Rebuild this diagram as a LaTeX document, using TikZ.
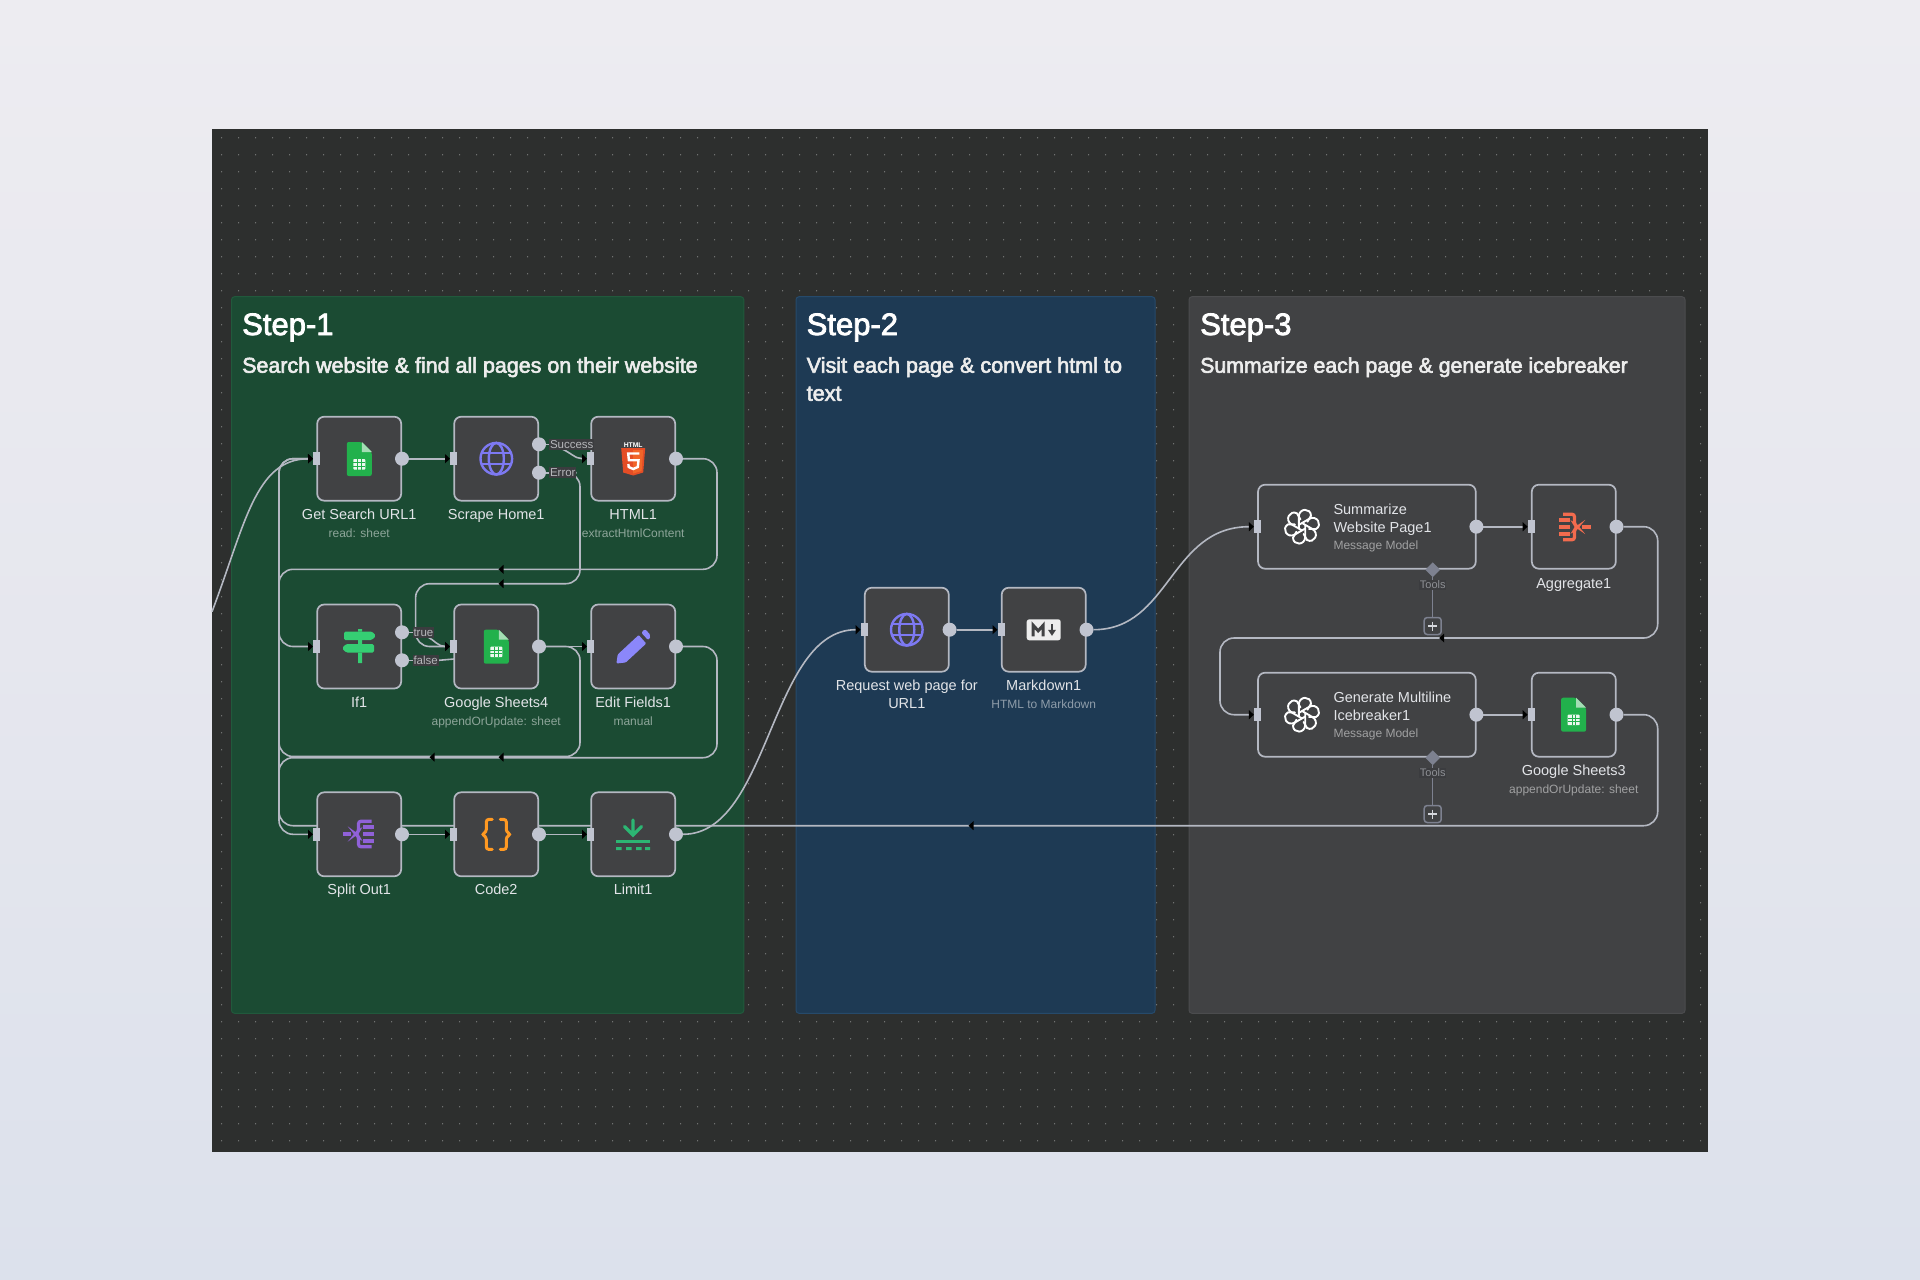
\documentclass[tikz,border=0pt]{standalone}
\usepackage{fontspec}
\setmainfont{Liberation Sans}
\newfontfamily\headfont[FakeBold=2.5]{Liberation Sans}
\newfontfamily\subfont[FakeBold=2.8]{Liberation Sans}
\usetikzlibrary{arrows.meta,shapes.geometric,calc}
\definecolor{canvasc}{HTML}{2D2F2E}
\definecolor{dotc}{HTML}{707271}
\definecolor{greenp}{HTML}{1B4B33}
\definecolor{greenb}{HTML}{21593C}
\definecolor{bluep}{HTML}{1E3A54}
\definecolor{blueb}{HTML}{264A6B}
\definecolor{grayp}{HTML}{414244}
\definecolor{grayb}{HTML}{4B4C4E}
\definecolor{boxc}{HTML}{414244}
\definecolor{edgec}{HTML}{B4B8C2}
\definecolor{portc}{HTML}{C0C4D0}
\definecolor{labc}{HTML}{E2E4E8}
\definecolor{sheetg}{HTML}{22B14C}
\definecolor{sheetf}{HTML}{A5DDB5}
\definecolor{globec}{HTML}{7D79F2}
\definecolor{pencilc}{HTML}{8B87FA}
\definecolor{signc}{HTML}{35CE73}
\definecolor{splitc}{HTML}{9061D8}
\definecolor{codec}{HTML}{FF9922}
\definecolor{limitc}{HTML}{2CB673}
\definecolor{aggc}{HTML}{F26B4E}
\definecolor{toolc}{HTML}{7D8190}
\definecolor{tagc}{HTML}{3B3C3F}
\definecolor{tagt}{HTML}{B5B6BA}
\definecolor{toolt}{HTML}{8E9095}
\definecolor{plusc}{HTML}{D5D7DC}
\definecolor{bgtop}{HTML}{EDECF1}
\definecolor{bgmid}{HTML}{E6E7EE}
\definecolor{bgbot}{HTML}{DCE1EC}
\definecolor{htmlbase}{HTML}{E44D26}
\definecolor{htmllite}{HTML}{F16529}
\pgfdeclarelayer{bglayer}
\pgfdeclarelayer{wirelayer}
\pgfsetlayers{bglayer,wirelayer,main}
\tikzset{
  panelbox/.style={line width=1pt,rounded corners=3pt},
  nodebox/.style={draw=edgec,fill=boxc,line width=1.7pt,rounded corners=7pt,minimum width=84pt,minimum height=84pt,inner sep=0pt,outer sep=0pt},
  inport/.style={fill=portc,minimum width=7pt,minimum height=13pt,inner sep=0pt,outer sep=0pt},
  outport/.style={circle,fill=portc,minimum size=14pt,inner sep=0pt,outer sep=0pt},
  wire/.style={draw=edgec,line width=1.6pt},
  rwire/.style={wire,rounded corners=14pt},
  tipped/.style={-{Triangle[length=5pt,width=9pt,color=black,fill=black]}},
  titletext/.style={anchor=base west,inner sep=0pt,text=white,font=\headfont\fontsize{31}{31}\selectfont},
  subtitle/.style={anchor=base west,inner sep=0pt,text=white!93!black,font=\subfont\fontsize{#1}{28}\selectfont},
  namelabm/.style={inner sep=0pt,text=labc,font=\fontsize{14.5}{17.5}\selectfont,align=center},
  namelab/.style={namelabm,text height=10.5pt,text depth=3pt},
  sublab/.style={inner sep=0pt,text=white,text opacity=.5,font=\fontsize{12}{14}\selectfont,text height=9pt,text depth=2.5pt},
  portlabel/.style={fill=tagc,text=tagt,inner sep=0.8pt,font=\fontsize{11.5}{12}\selectfont,anchor=west,text height=8.5pt,text depth=1pt},
  toollabel/.style={fill=tagc,text=toolt,inner sep=0.8pt,font=\fontsize{11}{12}\selectfont},
  toolline/.style={draw=toolc,line width=1.4pt},
  tooldiamond/.style={diamond,fill=toolc,minimum size=15pt,inner sep=0pt},
  plusbox/.style={draw=toolc,fill=boxc,line width=1.5pt,rounded corners=3pt,minimum size=17pt,inner sep=0pt},
  sheetsicon/.pic={
    \fill[sheetg,rounded corners=2pt] (-12.5,-17) -- (2.5,-17) -- (12.5,-7) -- (12.5,17) -- (-12.5,17) -- cycle;
    \fill[sheetf] (2.5,-17) -- (12.5,-7) -- (2.5,-7) -- cycle;
    \fill[white,opacity=.92,rounded corners=.8pt] (-6,0) rectangle (6,10.5);
    \draw[sheetg,line width=.6pt] (-6,3.5) -- (6,3.5) (-6,7) -- (6,7) (-1.6,0) -- (-1.6,10.5) (1.9,0) -- (1.9,10.5);
  },
  globeicon/.pic={
    \draw[globec,line width=2.4pt] (0,0) circle[radius=15.8];
    \draw[globec,line width=2.4pt] (0,0) ellipse[x radius=7.5,y radius=15.8];
    \draw[globec,line width=2.4pt] (-14.6,-5.5) -- (14.6,-5.5) (-14.6,5.5) -- (14.6,5.5);
  },
  openaiicon/.pic={
    \foreach \r in {0,60,...,300}{
      \draw[white,line width=1.9pt,line cap=round,rotate=\r] (-3.2,1.5) -- (-3.2,-10) .. controls (-3.2,-19) and (9,-19) .. (9,-11) -- (5.5,-5);
    }
  },
}
\newcommand\mkbox[4][]{\node[nodebox,#1] (#2) at (#3,#4) {}; \node[inport] (#2in) at ([xshift=-0.7pt]#2.west) {};}
\newcommand\mkout[3]{\node[outport] (#1) at (#2,#3) {};}
\newcommand\midarrow[2]{\fill[black,shift={(#1,#2)}] (-2.5,0) -- (2.5,-4.5) -- (2.5,4.5) -- cycle;}
\begin{document}
\begin{tikzpicture}[x=1pt,y=-1pt]
\useasboundingbox (0,0) rectangle (1920,1280);
\begin{pgfonlayer}{bglayer}
  \fill[top color=bgtop,bottom color=bgbot,middle color=bgmid] (0,0) rectangle (1920,1280);
  \fill[canvasc] (212,128.5) rectangle (1708,1152);
  \fill[dotc] \foreach \i in {0,...,87}{\foreach \j in {0,...,59}{ ({221.2+17*\i},{137+17*\j}) rectangle ++(1,1.3) }};
  \path[panelbox,fill=greenp,draw=greenb] (231.5,296.7) rectangle (743.8,1013.3);
  \path[panelbox,fill=bluep,draw=blueb] (796,296.7) rectangle (1155,1013.3);
  \path[panelbox,fill=grayp,draw=grayb] (1189,296.7) rectangle (1685,1013.3);
\end{pgfonlayer}

% headings
\node[titletext] (h1) at (242,335) {Step-1};
\node[subtitle=21.45] (s1) at (242,372.7) {Search website \& find all pages on their website};
\node[titletext] (h2) at (806.5,335) {Step-2};
\node[subtitle=21.6] (s2a) at (806.5,372.7) {Visit each page \& convert html to};
\node[subtitle=21.6] (s2b) at (806.5,400.7) {text};
\node[titletext] (h3) at (1200,335) {Step-3};
\node[subtitle=21.25] (s3) at (1200,372.7) {Summarize each page \& generate icebreaker};

% boxes
\mkbox{get}{359.2}{458.7}
\mkbox{scrape}{496.2}{458.7}
\mkbox{html}{633.2}{458.7}
\mkbox{iff}{359.2}{646.5}
\mkbox{gsf}{496.2}{646.5}
\mkbox{edit}{633.2}{646.5}
\mkbox{split}{359.2}{834.3}
\mkbox{code}{496.2}{834.3}
\mkbox{limit}{633.2}{834.3}
\mkbox{req}{906.8}{629.7}
\mkbox{md}{1043.7}{629.7}
\mkbox[minimum width=217.7pt]{summ}{1366.9}{526.7}
\mkbox{agg}{1573.8}{526.7}
\mkbox[minimum width=217.7pt]{gen}{1366.9}{714.7}
\mkbox{gst}{1573.8}{714.7}

% output ports
\mkout{getout}{402}{458.7}
\mkout{succout}{539}{444.3}
\mkout{errout}{539}{472.7}
\mkout{htmlout}{676}{458.7}
\mkout{trueout}{402}{632.3}
\mkout{falseout}{402}{660.3}
\mkout{gsfout}{539}{646.5}
\mkout{editout}{676}{646.5}
\mkout{splitout}{402}{834.3}
\mkout{codeout}{539}{834.3}
\mkout{limitout}{676}{834.3}
\mkout{reqout}{949.6}{629.7}
\mkout{mdout}{1086.5}{629.7}
\mkout{summout}{1476.4}{526.7}
\mkout{aggout}{1616.5}{526.7}
\mkout{genout}{1476.4}{714.7}
\mkout{gstout}{1616.5}{714.7}

% port labels
\node[portlabel] (succlab) at (549,444.3) {Success};
\node[portlabel] (errlab) at (549,472.7) {Error};
\node[portlabel] (truelab) at (412.5,632.3) {true};
\node[portlabel] (falselab) at (412.5,660.3) {false};

% node names
\node[namelab] (l1) at (359.2,515.3) {Get Search URL1};
\node[sublab] (l1b) at (359.2,534.3) {read: sheet};
\node[namelab] (l2) at (496.2,515.3) {Scrape Home1};
\node[namelab] (l3) at (633.2,515.3) {HTML1};
\node[sublab] (l3b) at (633.2,534.3) {extractHtmlContent};
\node[namelab] (l4) at (359.2,703.3) {If1};
\node[namelab] (l5) at (496.2,703.3) {Google Sheets4};
\node[sublab] (l5b) at (496.2,722.3) {appendOrUpdate: sheet};
\node[namelab] (l6) at (633.2,703.3) {Edit Fields1};
\node[sublab] (l6b) at (633.2,722.3) {manual};
\node[namelab] (l7) at (359.2,891) {Split Out1};
\node[namelab] (l8) at (496.2,891) {Code2};
\node[namelab] (l9) at (633.2,891) {Limit1};
\node[namelabm,anchor=north] (l10) at (906.8,680) {Request web page for\\URL1};
\node[namelab] (l11) at (1043.7,686.5) {Markdown1};
\node[sublab] (l11b) at (1043.7,705) {HTML to Markdown};
\node[namelabm,anchor=west,align=left] (l12) at (1333.3,519.7) {Summarize\\Website Page1};
\node[sublab,anchor=west] (l12b) at (1333.3,546.3) {Message Model};
\node[namelab] (l13) at (1573.8,584.5) {Aggregate1};
\node[namelabm,anchor=west,align=left] (l14) at (1333.3,706.5) {Generate Multiline\\Icebreaker1};
\node[sublab,anchor=west] (l14b) at (1333.3,734) {Message Model};
\node[namelab] (l15) at (1573.8,771.7) {Google Sheets3};
\node[sublab] (l15b) at (1573.8,790.3) {appendOrUpdate: sheet};

% tool stubs
\node[tooldiamond] (d1) at (1432.7,569.7) {};
\node[plusbox] (p1) at (1432.7,626) {};
\node[toollabel] (t1) at (1432.7,585) {Tools};
\node[tooldiamond] (d2) at (1432.7,757.7) {};
\node[plusbox] (p2) at (1432.7,814) {};
\node[toollabel] (t2) at (1432.7,773) {Tools};
\draw[plusc,line width=1.5pt] (p1.center) ++(-4.5,0) -- ++(9,0) (p1.center) ++(0,-4.5) -- ++(0,9);
\draw[plusc,line width=1.5pt] (p2.center) ++(-4.5,0) -- ++(9,0) (p2.center) ++(0,-4.5) -- ++(0,9);

% icons
\pic at (359.3,459) {sheetsicon};
\pic at (496.3,458.7) {globeicon};
\pic at (906.8,629.7) {globeicon};
\pic at (496.3,646.7) {sheetsicon};
\pic at (1573.6,714.7) {sheetsicon};
\pic at (1302,526.7) {openaiicon};
\pic at (1302,714.7) {openaiicon};
% html5
\begin{scope}[shift={(633.2,459)}]
  \fill[htmlbase] (-12,-11) -- (12,-11) -- (10,13.5) -- (0,16.5) -- (-10,13.5) -- cycle;
  \fill[htmllite] (0,-9) -- (10,-9) -- (8.4,12) -- (0,14.5) -- cycle;
  \draw[white,line width=2.4pt,line join=miter] (6.2,-5.5) -- (-5,-5.5) -- (-4.3,1.2) -- (5.3,1.2) -- (4.6,8) -- (0,10) -- (-4.5,8) -- (-4.8,5);
  \node[inner sep=0pt,text=white,font=\bfseries\fontsize{6.8}{7}\selectfont] (html5tag) at (0,-14.3) {HTML};
\end{scope}
% if sign
\begin{scope}[shift={(360,646.5)},signc]
  \fill[rounded corners=1.5pt] (-16,-15) -- (12,-15) -- (16,-10.8) -- (12,-6.5) -- (-16,-6.5) -- cycle;
  \fill[rounded corners=1.5pt] (14,-2.5) -- (-14,-2.5) -- (-18,1.8) -- (-14,6) -- (14,6) -- cycle;
  \fill (-2,-17.5) rectangle (2,-15) (-2,-6.5) rectangle (2,-2.5) (-2,6) rectangle (2,16.5);
\end{scope}
% pencil
\begin{scope}[shift={(633.2,646.5)},pencilc]
  \fill[rounded corners=1pt] (-16.8,17) -- (-15.5,8) -- (5.5,-11.5) -- (13,-3) -- (-7.5,16) -- cycle;
  \fill[rounded corners=2pt] (8,-13.8) -- (11.8,-17.5) -- (17.8,-11) -- (15.2,-6.2) -- cycle;
\end{scope}
% split out
\begin{scope}[shift={(360,834)},splitc,line width=3.2pt]
  \draw (-17,0) -- (-9,0);
  \draw[rounded corners=2.5pt] (11.5,-12.8) -- (-1.5,-12.8) -- (-1.5,-2.2) -- (-4.5,0) -- (-1.5,2.2) -- (-1.5,12.8) -- (11.5,12.8);
  \draw (3,-7) -- (14,-7) (3,0) -- (14,0) (3,7) -- (14,7);
\end{scope}
% code
\begin{scope}[shift={(496.3,834.4)},codec,line width=3pt,line cap=round,rounded corners=2.5pt]
  \draw (-4,-15) -- (-10,-15) -- (-10,-2.5) -- (-14.5,0) -- (-10,2.5) -- (-10,15) -- (-4,15);
  \draw (4,-15) -- (10,-15) -- (10,-2.5) -- (14.5,0) -- (10,2.5) -- (10,15) -- (4,15);
\end{scope}
% limit
\begin{scope}[shift={(633,834)},limitc]
  \draw[line width=3.2pt,line cap=round] (0,-14) -- (0,0) (-8.5,-7.5) -- (0,1) -- (8.5,-7.5);
  \fill (-17,5.5) rectangle (17,8.5);
  \fill (-17,13) rectangle (-11.5,16) (-7,13) rectangle (-1.5,16) (3,13) rectangle (8.5,16) (12,13) rectangle (17,16);
\end{scope}
% markdown
\begin{scope}[shift={(1043.7,629.8)}]
  \fill[white!93!black,rounded corners=2.5pt] (-17,-10.5) rectangle (17,10.5);
  \draw[boxc,line width=3pt,line join=miter] (-10.5,6.5) -- (-10.5,-4.5) -- (-5.5,1) -- (-0.5,-4.5) -- (-0.5,6.5);
  \draw[boxc,line width=2.6pt] (8.3,-6) -- (8.3,2);
  \fill[boxc] (4.3,0) -- (12.3,0) -- (8.3,6) -- cycle;
\end{scope}
% aggregate
\begin{scope}[shift={(1574.5,527)},aggc,line width=3.2pt]
  \draw (7.5,0) -- (16,0);
  \draw[rounded corners=2.5pt] (-11.5,-12.8) -- (0,-12.8) -- (0,-2.2) -- (3.2,0) -- (0,2.2) -- (0,12.8) -- (-11.5,12.8);
  \draw (-4.5,-7) -- (-15.5,-7) (-4.5,0) -- (-15.5,0) (-4.5,7) -- (-15.5,7);
\end{scope}

% connectors
\begin{pgfonlayer}{wirelayer}
  \coordinate (offleft) at (212,611.7);
  \coordinate (succstart) at (560,448);
  \coordinate (truestart) at (428,637);
  \coordinate (falseend) at (454,659);
  \draw[wire,tipped] (offleft) .. controls (245,525) and (255,459) .. (getin.west);
  \draw[wire,tipped] (getout) -- (scrapein.west);
  \draw[wire,tipped] (succstart) .. controls (570,452) and (575,458.7) .. (htmlin.west);
  \draw[wire] (succout) -- (succlab);
  \draw[wire] (errout) -- (errlab);
  \draw[rwire,tipped] (errlab.east) -- (580,472.7) -- (580,583.7) -- (415.6,583.7) -- (415.6,646.5) -- (gsfin.west);
  \draw[rwire,tipped] (htmlout) -- (717,458.7) -- (717,569.3) -- (279,569.3) -- (279,646.5) -- (iffin.west);
  \draw[wire] (trueout) -- (truelab);
  \draw[wire,tipped] (truestart) .. controls (434,640) and (438,646.5) .. (gsfin.west);
  \draw[wire] (falseout) -- (falselab);
  \draw[wire] (falselab.east) -- (falseend);
  \draw[wire,tipped] (gsfout) -- (editin.west);
  \draw[rwire,tipped] (editout) -- (717,646.5) -- (717,757.7) -- (279,757.7) -- (279,834.3) -- (splitin.west);
  \draw[rwire,tipped] (gsfout) -- (580,646.5) -- (580,756.5) -- (279,756.5) -- (279,458.7) -- (getin.west);
  \draw[wire,tipped] (splitout) -- (codein.west);
  \draw[wire,tipped] (codeout) -- (limitin.west);
  \draw[wire,tipped] (limitout) .. controls (770,834.3) and (770,629.7) .. (reqin.west);
  \draw[wire,tipped] (reqout) -- (mdin.west);
  \draw[wire,tipped] (mdout) .. controls (1170,629.7) and (1170,526.7) .. (summin.west);
  \draw[wire,tipped] (summout) -- (aggin.west);
  \draw[rwire,tipped] (aggout) -- (1657.7,526.7) -- (1657.7,638) -- (1220,638) -- (1220,714.7) -- (genin.west);
  \draw[wire,tipped] (genout) -- (gstin.west);
  \draw[rwire,tipped] (gstout) -- (1657.7,714.7) -- (1657.7,825.7) -- (279,825.7) -- (279,458.7) -- (getin.west);
  \draw[toolline] (d1) -- (p1);
  \draw[toolline] (d2) -- (p2);
  \midarrow{501}{569.3}
  \midarrow{501}{583.7}
  \midarrow{432}{757.2}
  \midarrow{501}{757.2}
  \midarrow{971}{825.7}
  \midarrow{1441.7}{638}
\end{pgfonlayer}
\end{tikzpicture}
\end{document}
